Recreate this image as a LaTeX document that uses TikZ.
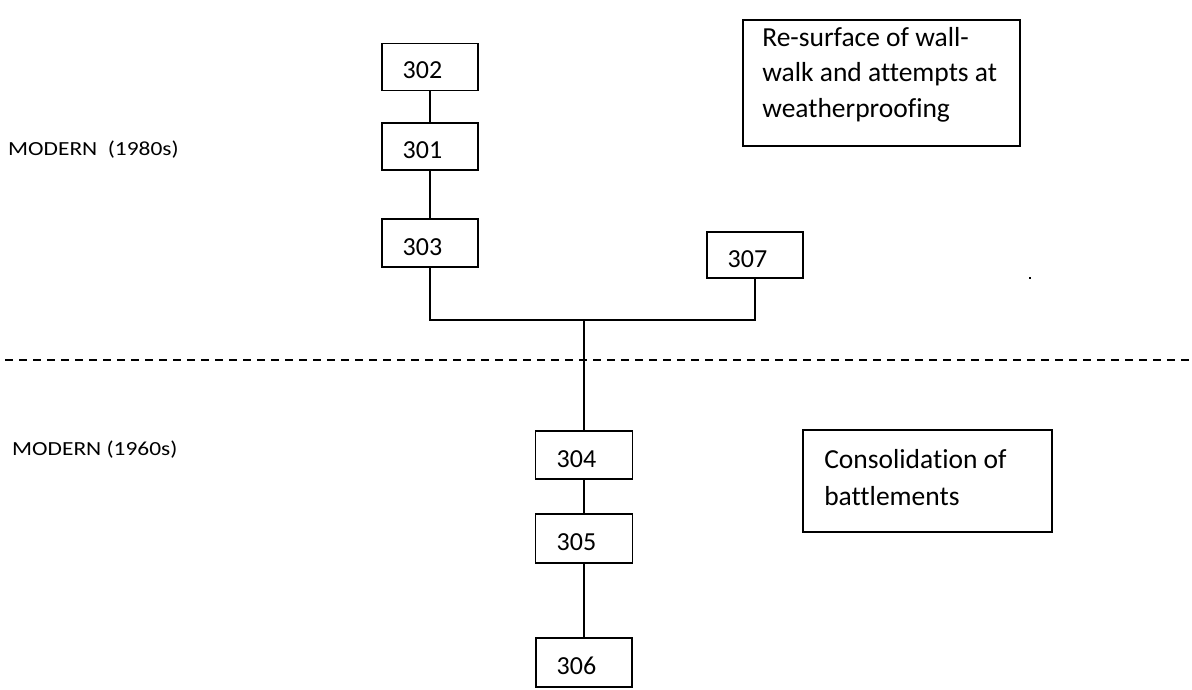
\documentclass[tikz,border=0pt]{standalone}
\usepackage{fontspec}
\setmainfont{Carlito}[Ligatures=NoCommon]
\begin{document}
\begin{tikzpicture}[x=1pt,y=-1pt,
  unit/.style={draw=black,line width=1.8pt,minimum width=96pt,minimum height=47pt,inner sep=0pt,text height=24pt,text depth=0pt,font=\fontsize{26}{30}\selectfont},
  note/.style={draw=black,line width=1.8pt,inner sep=0pt},
  notetext/.style={anchor=north west,inner sep=0pt,align=left,font=\fontsize{27.5}{35.5}\selectfont},
  period/.style={anchor=base west,inner sep=0pt,font=\fontsize{20}{24}\selectfont},
  link/.style={line width=1.8pt}]
\newcommand{\unitlabel}[1]{\hspace*{-15pt}#1}
\useasboundingbox (0,0) rectangle (1192,690);
% units
\node[unit] (u302) at (430,67) {\unitlabel{302}};
\node[unit] (u301) at (430,146.5) {\unitlabel{301}};
\node[unit,minimum height=48pt] (u303) at (430,243) {\unitlabel{303}};
\node[unit,minimum height=46pt] (u307) at (755,255) {\unitlabel{307}};
\node[unit,minimum width=97pt,minimum height=48pt] (u304) at (584,455) {\unitlabel{304}};
\node[unit,minimum width=97pt,minimum height=49pt] (u305) at (584,538.5) {\unitlabel{305}};
\node[unit,minimum height=49pt] (u306) at (584,662.5) {\unitlabel{306}};
\coordinate (j) at (584,320);
% connectors
\draw[link] (u302.south) -- (u301.north);
\draw[link] (u301.south) -- (u303.north);
\draw[link] (u303.south) |- (j) -| (u307.south);
\draw[link] (j) -- (u304.north);
\draw[link] (u304.south) -- (u305.north);
\draw[link] (u305.south) -- (u306.north);
% phase divider
\coordinate (dl) at (5,360);
\coordinate (dr) at (1192,360);
\draw[line width=1.6pt,dash pattern=on 8pt off 6pt] (dl) -- (dr);
% period labels
\node[period] (p1980) at (8,155.5) {\scalebox{1.17}[1]{MODERN\ \ (1980s)}};
\node[period] (p1960) at (12,455) {\scalebox{1.17}[1]{MODERN (1960s)}};
% notes
\node[note,minimum width=277pt,minimum height=126pt] (n1) at (881.5,83) {};
\node[notetext] (n1t) at ([xshift=20pt,yshift=-8pt]n1.north west) {Re-surface of wall-\\walk and attempts at\\weatherproofing};
\node[note,minimum width=249pt,minimum height=102pt] (n2) at (927.5,481) {};
\node[notetext,font=\fontsize{27.5}{37}\selectfont] (n2t) at ([xshift=22pt,yshift=-20pt]n2.north west) {Consolidation of\\battlements};
% stray dot
\fill (1029,277) rectangle (1031,279);
\end{tikzpicture}
\end{document}
